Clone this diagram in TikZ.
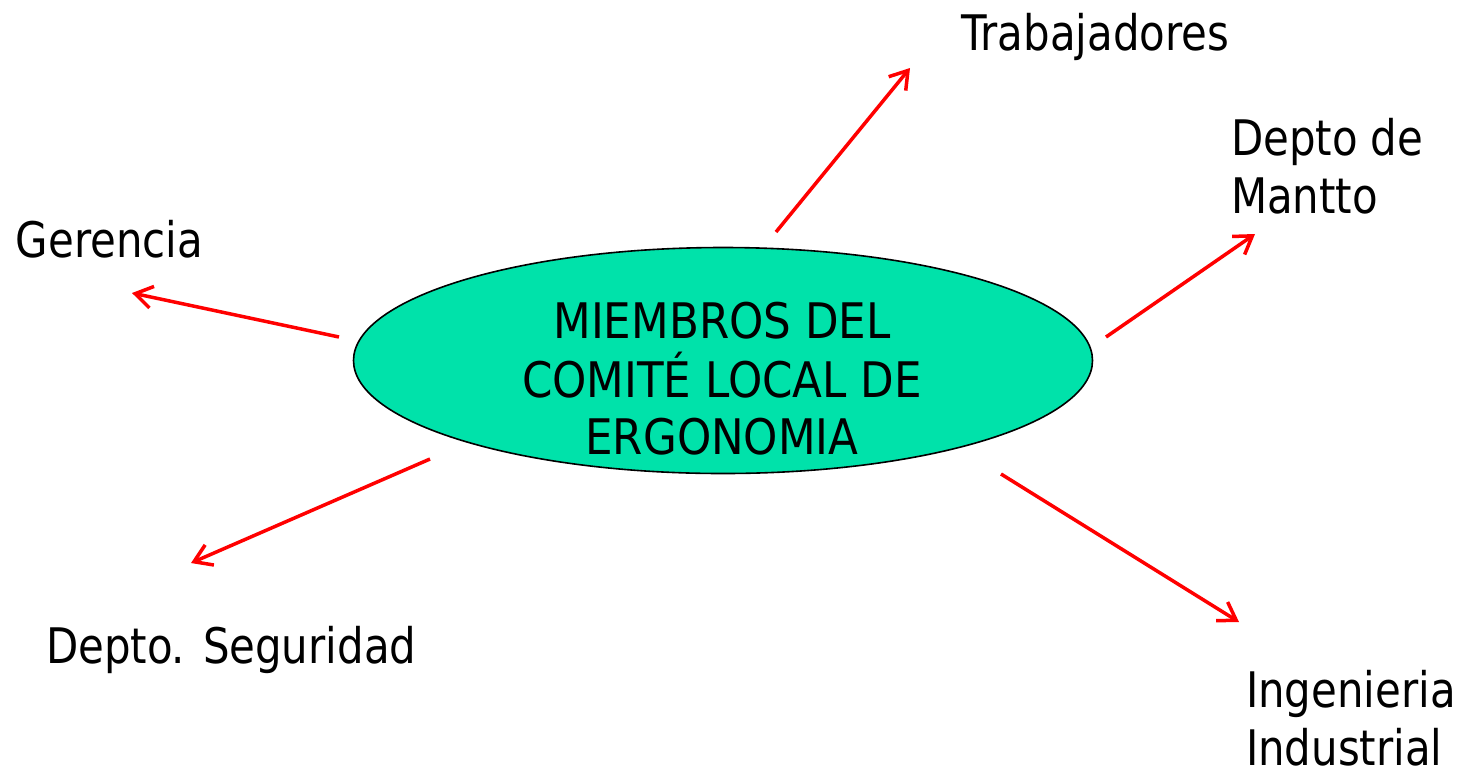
\documentclass[tikz,border=0pt]{standalone}
\usepackage{fontspec}
\usetikzlibrary{arrows.meta,shapes.geometric}
\newfontfamily\lblfont[FakeStretch=0.855]{DejaVu Sans}
\newfontfamily\ctrfont[FakeStretch=0.89]{DejaVu Sans}
\definecolor{ellfill}{RGB}{0,226,170}
\definecolor{arrred}{RGB}{255,0,0}
\tikzset{
  lbl/.style={anchor=base west, inner sep=0pt, outer sep=0pt, align=left,
    font=\lblfont\fontsize{24.5pt}{29pt}\selectfont},
  ctr/.style={inner sep=0pt, outer sep=0pt, align=center,
    font=\ctrfont\fontsize{24.5pt}{28.75pt}\selectfont},
  ell/.style={ellipse, draw=black, line width=0.8pt, fill=ellfill,
    minimum width=369.5pt, minimum height=113pt, inner sep=0pt},
  arr/.style={draw=arrred, line width=1.75pt,
    -{Straight Barb[length=8.5pt,width=11pt,line width=1.75pt]}}
}
\begin{document}
\begin{tikzpicture}[x=0.5pt,y=-0.5pt]
\useasboundingbox (0,0) rectangle (1470,772);
% central ellipse
\node[ell] (c) at (723,360.5) {};
\node[ctr, anchor=base] (ct1) at (722,338) {MIEMBROS DEL};
\node[ctr, anchor=base] (ct2) at (722,397) {COMITÉ LOCAL DE};
\node[ctr, anchor=base] (ct3) at (722,454) {ERGONOMIA};
% labels (base anchor = baseline of last line)
\node[lbl] (trab) at (961,50) {Trabajadores};
\node[lbl] (mant) at (1231,213) {Depto de\\Mantto};
\node[lbl] (ger) at (16,257) {Gerencia};
\node[lbl] (seg) at (46,663) {Depto. Seguridad};
\node[lbl] (ing) at (1246,765) {Ingenieria\\Industrial};
% arrow endpoints
\coordinate (s1) at (776,232);  \coordinate (e1) at (910,68);
\coordinate (s2) at (1106,337); \coordinate (e2) at (1255,234);
\coordinate (s3) at (339,337);  \coordinate (e3) at (132,293);
\coordinate (s4) at (430,459);  \coordinate (e4) at (191,563);
\coordinate (s5) at (1001,474); \coordinate (e5) at (1239,622);
\draw[arr] (s1) -- (e1);
\draw[arr] (s2) -- (e2);
\draw[arr] (s3) -- (e3);
\draw[arr] (s4) -- (e4);
\draw[arr] (s5) -- (e5);
\end{tikzpicture}
\end{document}
